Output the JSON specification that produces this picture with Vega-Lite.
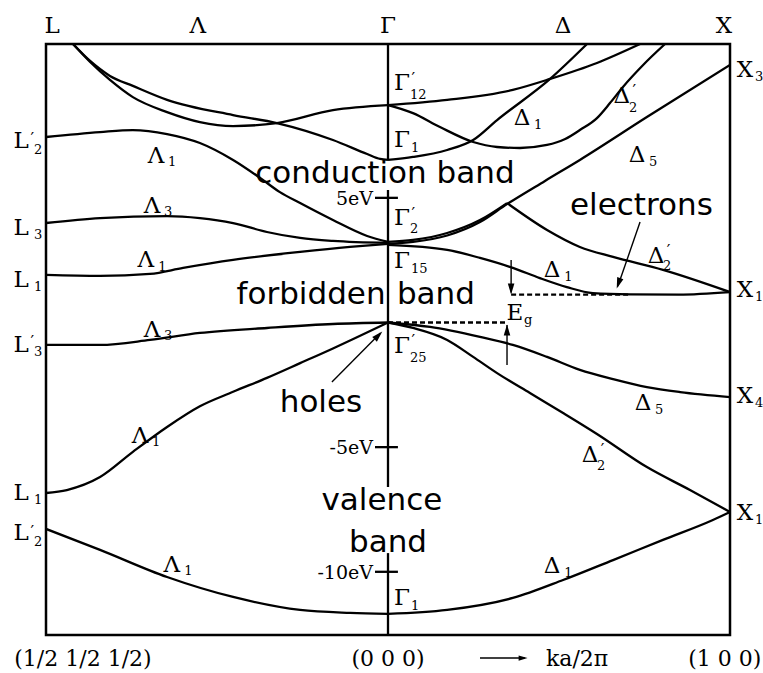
{
  "$schema": "https://vega.github.io/schema/vega-lite/v6.json",
  "width": 684,
  "height": 591,
  "autosize": {"type": "none"},
  "padding": {"left": 46, "top": 44, "right": 33, "bottom": 38},
  "background": "white",
  "config": {"view": {"stroke": "#000", "strokeWidth": 2.5}},
  "datasets": {
    "bands": [
      {"band": "b1", "k": -0.921, "E": 11.17}, {"band": "b1", "k": -0.871, "E": 10.45}, {"band": "b1", "k": -0.813, "E": 9.73}, {"band": "b1", "k": -0.746, "E": 9.04}, {"band": "b1", "k": -0.646, "E": 8.44}, {"band": "b1", "k": -0.55, "E": 8.04}, {"band": "b1", "k": -0.453, "E": 7.88}, {"band": "b1", "k": -0.325, "E": 8.0}, {"band": "b1", "k": -0.161, "E": 8.52}, {"band": "b1", "k": 0, "E": 8.72},
      {"band": "b2", "k": -0.921, "E": 11.17}, {"band": "b2", "k": -0.871, "E": 10.49}, {"band": "b2", "k": -0.813, "E": 9.89}, {"band": "b2", "k": -0.746, "E": 9.49}, {"band": "b2", "k": -0.646, "E": 8.93}, {"band": "b2", "k": -0.453, "E": 8.32}, {"band": "b2", "k": -0.325, "E": 8.0}, {"band": "b2", "k": -0.161, "E": 7.32}, {"band": "b2", "k": -0.061, "E": 6.76}, {"band": "b2", "k": -0.023, "E": 6.56}, {"band": "b2", "k": 0, "E": 6.52},
      {"band": "b3", "k": -1, "E": 7.44}, {"band": "b3", "k": -0.842, "E": 7.64}, {"band": "b3", "k": -0.746, "E": 7.72}, {"band": "b3", "k": -0.646, "E": 7.56}, {"band": "b3", "k": -0.55, "E": 7.2}, {"band": "b3", "k": -0.453, "E": 6.52}, {"band": "b3", "k": -0.374, "E": 5.8}, {"band": "b3", "k": -0.316, "E": 5.23}, {"band": "b3", "k": -0.257, "E": 4.79}, {"band": "b3", "k": -0.161, "E": 4.11}, {"band": "b3", "k": -0.061, "E": 3.47}, {"band": "b3", "k": 0, "E": 3.23},
      {"band": "b4", "k": -1, "E": 3.99}, {"band": "b4", "k": -0.842, "E": 4.19}, {"band": "b4", "k": -0.646, "E": 4.27}, {"band": "b4", "k": -0.55, "E": 4.19}, {"band": "b4", "k": -0.453, "E": 3.99}, {"band": "b4", "k": -0.354, "E": 3.63}, {"band": "b4", "k": -0.257, "E": 3.39}, {"band": "b4", "k": -0.161, "E": 3.27}, {"band": "b4", "k": 0, "E": 3.19},
      {"band": "b5", "k": -1, "E": 1.91}, {"band": "b5", "k": -0.842, "E": 1.87}, {"band": "b5", "k": -0.696, "E": 1.95}, {"band": "b5", "k": -0.599, "E": 2.19}, {"band": "b5", "k": -0.453, "E": 2.51}, {"band": "b5", "k": -0.257, "E": 2.83}, {"band": "b5", "k": -0.111, "E": 3.03}, {"band": "b5", "k": 0, "E": 3.15},
      {"band": "b6", "k": -1, "E": -0.9}, {"band": "b6", "k": -0.842, "E": -0.9}, {"band": "b6", "k": -0.696, "E": -0.7}, {"band": "b6", "k": -0.55, "E": -0.42}, {"band": "b6", "k": -0.354, "E": -0.22}, {"band": "b6", "k": -0.161, "E": -0.06}, {"band": "b6", "k": 0, "E": 0},
      {"band": "b7", "k": -1, "E": -6.84}, {"band": "b7", "k": -0.939, "E": -6.72}, {"band": "b7", "k": -0.842, "E": -6.2}, {"band": "b7", "k": -0.746, "E": -5.19}, {"band": "b7", "k": -0.646, "E": -4.19}, {"band": "b7", "k": -0.55, "E": -3.36}, {"band": "b7", "k": -0.453, "E": -2.78}, {"band": "b7", "k": -0.354, "E": -2.22}, {"band": "b7", "k": -0.257, "E": -1.63}, {"band": "b7", "k": -0.161, "E": -1.04}, {"band": "b7", "k": -0.08, "E": -0.52}, {"band": "b7", "k": 0, "E": 0},
      {"band": "b8", "k": -1, "E": -8.28}, {"band": "b8", "k": -0.842, "E": -9.12}, {"band": "b8", "k": -0.646, "E": -10.21}, {"band": "b8", "k": -0.453, "E": -11.01}, {"band": "b8", "k": -0.257, "E": -11.53}, {"band": "b8", "k": -0.111, "E": -11.65}, {"band": "b8", "k": 0, "E": -11.69},
      {"band": "b9", "k": 0, "E": -11.69}, {"band": "b9", "k": 0.173, "E": -11.53}, {"band": "b9", "k": 0.365, "E": -11.05}, {"band": "b9", "k": 0.512, "E": -10.33}, {"band": "b9", "k": 0.658, "E": -9.53}, {"band": "b9", "k": 0.804, "E": -8.72}, {"band": "b9", "k": 0.95, "E": -7.92}, {"band": "b9", "k": 1, "E": -7.6},
      {"band": "b10", "k": 0, "E": 0}, {"band": "b10", "k": 0.073, "E": -0.22}, {"band": "b10", "k": 0.173, "E": -0.7}, {"band": "b10", "k": 0.249, "E": -1.38}, {"band": "b10", "k": 0.319, "E": -2.03}, {"band": "b10", "k": 0.415, "E": -2.83}, {"band": "b10", "k": 0.512, "E": -3.63}, {"band": "b10", "k": 0.611, "E": -4.47}, {"band": "b10", "k": 0.757, "E": -5.8}, {"band": "b10", "k": 0.883, "E": -6.72}, {"band": "b10", "k": 1, "E": -7.6},
      {"band": "b11", "k": 0, "E": 0}, {"band": "b11", "k": 0.123, "E": -0.18}, {"band": "b11", "k": 0.269, "E": -0.58}, {"band": "b11", "k": 0.365, "E": -0.9}, {"band": "b11", "k": 0.465, "E": -1.38}, {"band": "b11", "k": 0.561, "E": -1.9}, {"band": "b11", "k": 0.658, "E": -2.27}, {"band": "b11", "k": 0.757, "E": -2.59}, {"band": "b11", "k": 0.854, "E": -2.79}, {"band": "b11", "k": 1, "E": -2.99},
      {"band": "b12", "k": 0, "E": 3.11}, {"band": "b12", "k": 0.173, "E": 2.91}, {"band": "b12", "k": 0.269, "E": 2.59}, {"band": "b12", "k": 0.365, "E": 2.19}, {"band": "b12", "k": 0.444, "E": 1.78}, {"band": "b12", "k": 0.523, "E": 1.42}, {"band": "b12", "k": 0.599, "E": 1.18}, {"band": "b12", "k": 0.708, "E": 1.13}, {"band": "b12", "k": 0.85, "E": 1.12}, {"band": "b12", "k": 1, "E": 1.22},
      {"band": "b13a", "k": 0, "E": 3.23}, {"band": "b13a", "k": 0.073, "E": 3.31}, {"band": "b13a", "k": 0.173, "E": 3.59}, {"band": "b13a", "k": 0.269, "E": 4.11}, {"band": "b13a", "k": 0.348, "E": 4.79},
      {"band": "b13b", "k": 0.348, "E": 4.79}, {"band": "b13b", "k": 0.465, "E": 3.71}, {"band": "b13b", "k": 0.561, "E": 3.03}, {"band": "b13b", "k": 0.658, "E": 2.63}, {"band": "b13b", "k": 0.804, "E": 2.11}, {"band": "b13b", "k": 1, "E": 1.22},
      {"band": "b14", "k": 0, "E": 3.15}, {"band": "b14", "k": 0.073, "E": 3.23}, {"band": "b14", "k": 0.173, "E": 3.49}, {"band": "b14", "k": 0.269, "E": 4.03}, {"band": "b14", "k": 0.348, "E": 4.75}, {"band": "b14", "k": 0.459, "E": 5.68}, {"band": "b14", "k": 0.561, "E": 6.52}, {"band": "b14", "k": 0.757, "E": 8.24}, {"band": "b14", "k": 1, "E": 10.33},
      {"band": "b15", "k": 0, "E": 8.72}, {"band": "b15", "k": 0.173, "E": 8.93}, {"band": "b15", "k": 0.365, "E": 9.33}, {"band": "b15", "k": 0.474, "E": 9.77}, {"band": "b15", "k": 0.611, "E": 10.41}, {"band": "b15", "k": 0.737, "E": 11.17},
      {"band": "b16", "k": 0, "E": 8.72}, {"band": "b16", "k": 0.073, "E": 8.4}, {"band": "b16", "k": 0.152, "E": 7.84}, {"band": "b16", "k": 0.249, "E": 7.24}, {"band": "b16", "k": 0.319, "E": 7.04}, {"band": "b16", "k": 0.386, "E": 7.0}, {"band": "b16", "k": 0.465, "E": 7.12}, {"band": "b16", "k": 0.518, "E": 7.36}, {"band": "b16", "k": 0.561, "E": 7.72}, {"band": "b16", "k": 0.611, "E": 8.2}, {"band": "b16", "k": 0.649, "E": 8.8}, {"band": "b16", "k": 0.687, "E": 9.45}, {"band": "b16", "k": 0.746, "E": 10.33}, {"band": "b16", "k": 0.81, "E": 11.17},
      {"band": "b17", "k": 0, "E": 6.52}, {"band": "b17", "k": 0.073, "E": 6.64}, {"band": "b17", "k": 0.173, "E": 6.92}, {"band": "b17", "k": 0.249, "E": 7.32}, {"band": "b17", "k": 0.319, "E": 8.12}, {"band": "b17", "k": 0.474, "E": 9.77}, {"band": "b17", "k": 0.582, "E": 11.17}
    ],
    "gammaLine": [
      {"k": 0, "E": 11.171, "E2": 6.52},
      {"k": 0, "E": 5.31, "E2": -6.6},
      {"k": 0, "E": -9.25, "E2": -12.535}
    ],
    "ticks": [
      {"k": -0.038, "k2": 0.029, "E": 5, "text": "5eV"},
      {"k": -0.038, "k2": 0.029, "E": -5, "text": "-5eV"},
      {"k": -0.038, "k2": 0.029, "E": -10, "text": "-10eV"}
    ],
    "gap": [
      {"k": 0, "k2": 0.351, "E": 0},
      {"k": 0.36, "k2": 0.702, "E": 1.12}
    ],
    "shafts": [
      {"k": 0.36, "E": 2.51, "k2": 0.36, "E2": 1.2},
      {"k": 0.348, "E": -1.7, "k2": 0.348, "E2": -0.1},
      {"k": 0.737, "E": 4.03, "k2": 0.672, "E2": 1.45},
      {"k": -0.164, "E": -2.39, "k2": -0.022, "E2": -0.42},
      {"k": 0.269, "E": -13.46, "k2": 0.4, "E2": -13.46}
    ],
    "heads": [
      {"name": "down", "k": 0.36, "E": 1.34},
      {"name": "up", "k": 0.348, "E": -0.3},
      {"name": "electrons", "k": 0.674, "E": 1.57},
      {"name": "holes", "k": -0.028, "E": -0.52},
      {"name": "axis", "k": 0.395, "E": -13.46}
    ],
    "words": [
      {"text": "conduction band", "k": -0.009, "E": 5.6},
      {"text": "forbidden", "k": -0.225, "E": 0.74},
      {"text": "band", "k": 0.14, "E": 0.74},
      {"text": "holes", "k": -0.196, "E": -3.59},
      {"text": "electrons", "k": 0.741, "E": 4.31},
      {"text": "valence", "k": -0.018, "E": -7.52},
      {"text": "band", "k": 0, "E": -9.21}
    ],
    "symbols": [
      {"text": "L", "k": -0.982, "E": 11.61}, {"text": "Λ", "k": -0.556, "E": 11.61}, {"text": "Γ", "k": 0, "E": 11.61}, {"text": "Δ", "k": 0.512, "E": 11.61}, {"text": "X", "k": 0.982, "E": 11.61},
      {"text": "L", "k": -1.073, "E": 7.0}, {"text": "L", "k": -1.073, "E": 3.51}, {"text": "L", "k": -1.073, "E": 1.42}, {"text": "L", "k": -1.073, "E": -1.18}, {"text": "L", "k": -1.073, "E": -7.12}, {"text": "L", "k": -1.073, "E": -8.72},
      {"text": "X", "k": 1.044, "E": 9.85}, {"text": "X", "k": 1.044, "E": 1.02}, {"text": "X", "k": 1.044, "E": -3.23}, {"text": "X", "k": 1.044, "E": -7.92},
      {"text": "Λ", "k": -0.678, "E": 6.4}, {"text": "Λ", "k": -0.69, "E": 4.39}, {"text": "Λ", "k": -0.708, "E": 2.23}, {"text": "Λ", "k": -0.69, "E": -0.58}, {"text": "Λ", "k": -0.725, "E": -4.83}, {"text": "Λ", "k": -0.632, "E": -10.01},
      {"text": "Γ", "k": 0.041, "E": 9.33}, {"text": "Γ", "k": 0.041, "E": 7.04}, {"text": "Γ", "k": 0.041, "E": 3.91}, {"text": "Γ", "k": 0.041, "E": 2.19}, {"text": "Γ", "k": 0.041, "E": -1.22}, {"text": "Γ", "k": 0.041, "E": -11.33},
      {"text": "Δ", "k": 0.392, "E": 7.92}, {"text": "Δ", "k": 0.684, "E": 8.8}, {"text": "Δ", "k": 0.728, "E": 6.44}, {"text": "Δ", "k": 0.48, "E": 1.83}, {"text": "Δ", "k": 0.784, "E": 2.39}, {"text": "Δ", "k": 0.746, "E": -3.51}, {"text": "Δ", "k": 0.591, "E": -5.6}, {"text": "Δ", "k": 0.48, "E": -10.05},
      {"text": "E", "k": 0.371, "E": 0.1}
    ],
    "subs": [
      {"text": "2", "k": -1.035, "E": 6.76}, {"text": "3", "k": -1.035, "E": 3.35}, {"text": "1", "k": -1.035, "E": 1.26}, {"text": "3", "k": -1.035, "E": -1.34}, {"text": "1", "k": -1.035, "E": -7.28}, {"text": "2", "k": -1.035, "E": -8.97},
      {"text": "3", "k": 1.073, "E": 9.69}, {"text": "1", "k": 1.073, "E": 0.86}, {"text": "4", "k": 1.073, "E": -3.39}, {"text": "1", "k": 1.073, "E": -8.08},
      {"text": "1", "k": -0.643, "E": 6.28}, {"text": "3", "k": -0.655, "E": 4.27}, {"text": "1", "k": -0.672, "E": 2.07}, {"text": "3", "k": -0.655, "E": -0.7}, {"text": "1", "k": -0.69, "E": -4.95}, {"text": "1", "k": -0.596, "E": -10.13},
      {"text": "12", "k": 0.064, "E": 8.96}, {"text": "1", "k": 0.067, "E": 6.84}, {"text": "2", "k": 0.064, "E": 3.59}, {"text": "15", "k": 0.067, "E": 1.99}, {"text": "25", "k": 0.064, "E": -1.58}, {"text": "1", "k": 0.067, "E": -11.53},
      {"text": "1", "k": 0.427, "E": 7.76}, {"text": "2", "k": 0.705, "E": 8.44}, {"text": "5", "k": 0.763, "E": 6.28}, {"text": "1", "k": 0.515, "E": 1.66}, {"text": "2", "k": 0.804, "E": 2.11}, {"text": "5", "k": 0.781, "E": -3.67}, {"text": "2", "k": 0.611, "E": -5.92}, {"text": "1", "k": 0.515, "E": -10.21},
      {"text": "g", "k": 0.398, "E": -0.06}
    ],
    "primes": [
      {"k": -1.045, "E": 7.16}, {"k": -1.045, "E": -0.98}, {"k": -1.045, "E": -8.6},
      {"k": 0.069, "E": 9.57}, {"k": 0.069, "E": 4.15}, {"k": 0.069, "E": -0.94},
      {"k": 0.715, "E": 9.09}, {"k": 0.815, "E": 2.67}, {"k": 0.622, "E": -5.31}
    ],
    "coords": [
      {"text": "(1/2 1/2 1/2)", "k": -0.892, "E": -13.78},
      {"text": "(0 0 0)", "k": 0, "E": -13.78},
      {"text": "ka/2π", "k": 0.553, "E": -13.78},
      {"text": "(1 0 0)", "k": 0.985, "E": -13.78}
    ]
  },
  "encoding": {
    "x": {"field": "k", "type": "quantitative", "scale": {"domain": [-1, 1], "nice": false, "zero": false}, "axis": null},
    "y": {"field": "E", "type": "quantitative", "scale": {"domain": [-12.535, 11.171], "nice": false, "zero": false}, "axis": null}
  },
  "layer": [
    {
      "data": {"name": "bands"},
      "mark": {"type": "line", "interpolate": "monotone", "color": "#000", "strokeWidth": 2.3, "clip": true},
      "encoding": {"detail": {"field": "band"}}
    },
    {
      "data": {"name": "gammaLine"},
      "mark": {"type": "rule", "color": "#000", "strokeWidth": 2.3},
      "encoding": {"y2": {"field": "E2"}}
    },
    {
      "data": {"name": "ticks"},
      "mark": {"type": "rule", "color": "#000", "strokeWidth": 2.3},
      "encoding": {"x2": {"field": "k2"}}
    },
    {
      "data": {"name": "ticks"},
      "mark": {"type": "text", "font": "DejaVu Serif", "fontSize": 19, "align": "right", "baseline": "middle", "color": "#000", "dx": -2, "dy": 1},
      "encoding": {"text": {"field": "text"}}
    },
    {
      "data": {"name": "gap"},
      "mark": {"type": "rule", "color": "#000", "strokeWidth": 2.3, "strokeDash": [5, 3]},
      "encoding": {"x2": {"field": "k2"}}
    },
    {
      "data": {"name": "shafts"},
      "mark": {"type": "rule", "color": "#000", "strokeWidth": 1.4},
      "encoding": {"x2": {"field": "k2"}, "y2": {"field": "E2"}}
    },
    {
      "data": {"name": "heads"},
      "transform": [{"filter": "datum.name === 'down'"}],
      "mark": {"type": "point", "shape": "M0,-1L0.6,1L-0.6,1Z", "angle": 180, "size": 120, "filled": true, "color": "#000", "opacity": 1}
    },
    {
      "data": {"name": "heads"},
      "transform": [{"filter": "datum.name === 'up'"}],
      "mark": {"type": "point", "shape": "M0,-1L0.6,1L-0.6,1Z", "angle": 0, "size": 120, "filled": true, "color": "#000", "opacity": 1}
    },
    {
      "data": {"name": "heads"},
      "transform": [{"filter": "datum.name === 'electrons'"}],
      "mark": {"type": "point", "shape": "M0,-1L0.6,1L-0.6,1Z", "angle": 199, "size": 120, "filled": true, "color": "#000", "opacity": 1}
    },
    {
      "data": {"name": "heads"},
      "transform": [{"filter": "datum.name === 'holes'"}],
      "mark": {"type": "point", "shape": "M0,-1L0.6,1L-0.6,1Z", "angle": 45, "size": 120, "filled": true, "color": "#000", "opacity": 1}
    },
    {
      "data": {"name": "heads"},
      "transform": [{"filter": "datum.name === 'axis'"}],
      "mark": {"type": "point", "shape": "M0,-1L0.6,1L-0.6,1Z", "angle": 90, "size": 80, "filled": true, "color": "#000", "opacity": 1}
    },
    {
      "data": {"name": "words"},
      "mark": {"type": "text", "font": "DejaVu Sans", "fontSize": 31, "align": "center", "baseline": "alphabetic", "color": "#000"},
      "encoding": {"text": {"field": "text"}}
    },
    {
      "data": {"name": "symbols"},
      "mark": {"type": "text", "font": "DejaVu Serif", "fontSize": 23, "align": "center", "baseline": "alphabetic", "color": "#000"},
      "encoding": {"text": {"field": "text"}}
    },
    {
      "data": {"name": "subs"},
      "mark": {"type": "text", "font": "DejaVu Serif", "fontSize": 13, "align": "left", "baseline": "alphabetic", "color": "#000"},
      "encoding": {"text": {"field": "text"}}
    },
    {
      "data": {"name": "primes"},
      "mark": {"type": "text", "font": "DejaVu Serif", "fontSize": 16, "align": "left", "baseline": "alphabetic", "color": "#000", "text": "′"}
    },
    {
      "data": {"name": "coords"},
      "mark": {"type": "text", "font": "DejaVu Serif", "fontSize": 22, "align": "center", "baseline": "alphabetic", "color": "#000"},
      "encoding": {"text": {"field": "text"}}
    }
  ]
}
